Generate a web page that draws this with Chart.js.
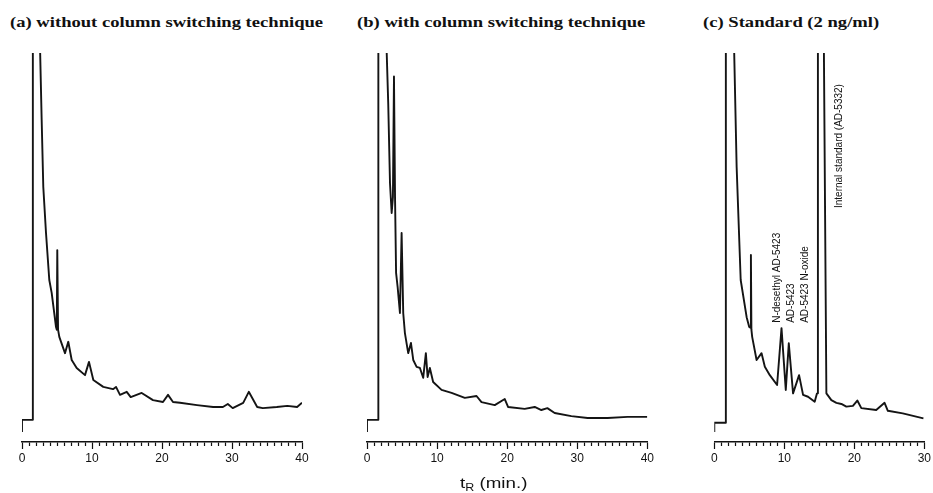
<!DOCTYPE html>
<html>
<head>
<meta charset="utf-8">
<script src="https://cdn.jsdelivr.net/npm/chart.js@4.4.1/dist/chart.umd.min.js"></script>
<style>
body{margin:0;background:#fff;}
#wrap{position:relative;width:933px;height:493px;overflow:hidden;background:#fff;}
canvas{position:absolute;top:0;}
.ttl{position:absolute;top:14px;font:bold 15px "Liberation Serif","Times New Roman",serif;line-height:16px;white-space:nowrap;transform:scaleX(1.24);transform-origin:0 0;color:#111;}
.xt{position:absolute;left:460px;top:475px;font:15px "Liberation Sans",Arial,sans-serif;line-height:16px;white-space:nowrap;transform:scaleX(1.25);transform-origin:0 0;color:#111;}
.xt sub{font-size:10px;vertical-align:-3px;}
</style>
</head>
<body>
<div id="wrap">
	<div class="ttl" id="title_a" style="left:10px;"></div>
	<div class="ttl" id="title_b" style="left:357px;"></div>
	<div class="ttl" id="title_c" style="left:703px;"></div>
	<canvas id="chrom_a" width="330" height="493" style="left:0px;"></canvas>
	<canvas id="chrom_b" width="330" height="493" style="left:345px;"></canvas>
	<canvas id="chrom_c" width="243" height="493" style="left:690px;"></canvas>
	<div class="xt">t<sub>R</sub> (min.)</div>
</div>
<script>
// retention time (min) and detector response (relative units, 100 = top of frame)
let titles = ['(a) without column switching technique', '(b) with column switching technique', '(c) Standard (2 ng/ml)'];

let timeA = [0, 0, 1.50, 1.55, 2.05, 2.57, 2.81, 3.04, 3.43, 3.9, 4.24, 4.86, 4.97, 5.04, 5.15, 5.33, 6.14, 6.61, 7.1, 7.81, 9.0, 9.57, 10.19, 11.61, 13.0, 13.43, 14.0, 14.96, 15.53, 17.1, 18.71, 20.14, 20.86, 21.57, 22.57, 25.0, 27.3, 28.7, 29.4, 30.1, 31.6, 32.4, 33.6, 34.4, 36.4, 37.9, 39.3, 40.0];
let signalA = [0, 3.2, 3.2, 102, 190, 102, 82.3, 64.7, 52.5, 40.1, 36.7, 27.7, 27, 48, 27, 25.1, 20.8, 23.8, 19.0, 16.9, 15.0, 18.5, 13.7, 11.9, 11.3, 11.9, 9.8, 10.6, 9.2, 10.3, 8.4, 7.9, 9.8, 7.9, 7.7, 7.1, 6.6, 6.6, 7.4, 6.3, 7.7, 10.6, 6.6, 6.3, 6.6, 6.9, 6.6, 7.7];

let timeB = [0, 0, 1.58, 1.62, 2.2, 2.78, 3.03, 3.28, 3.52, 3.7, 3.85, 4.0, 4.15, 4.37, 4.7, 4.94, 5.17, 5.41, 5.88, 6.27, 6.6, 7.08, 7.55, 8.02, 8.4, 8.65, 8.97, 9.44, 10.64, 12.07, 13.96, 15.63, 16.34, 18.23, 19.66, 20.13, 22.5, 23.93, 24.88, 25.74, 26.78, 29.16, 31.48, 34.33, 37.18, 40.0];
let signalB = [0, 3.2, 3.2, 102, 180, 102, 86.7, 65.7, 57.8, 62, 93.8, 62, 42, 38.3, 31.4, 52.5, 31.4, 26.1, 20.8, 23.5, 19.0, 17.2, 16.9, 14.3, 20.8, 14.5, 16.9, 13.2, 11.1, 10.3, 9.0, 9.5, 7.9, 7.1, 8.7, 6.6, 6.1, 6.6, 5.8, 6.3, 5.0, 4.2, 3.7, 3.7, 4.0, 4.0];

let timeC = [0, 0, 1.55, 1.65, 2.25, 2.82, 3.19, 3.77, 4.62, 4.99, 5.16, 5.23, 5.3, 5.41, 6.04, 6.75, 7.22, 7.93, 8.97, 9.6, 10.21, 10.64, 11.25, 12.11, 12.68, 13.39, 14.34, 14.67, 14.8, 15.25, 15.65, 16.01, 16.72, 17.44, 18.15, 18.86, 19.8, 20.43, 21.0, 23.13, 24.32, 24.79, 26.92, 29.87];
let signalC = [0, 2.45, 2.45, 102, 185, 102, 70.0, 40.1, 30.3, 27.7, 27.5, 46.7, 27, 25.1, 19.0, 20.8, 17.2, 15.0, 12.4, 27.4, 11.1, 23.4, 10.2, 15.0, 9.8, 9.3, 8.0, 10.2, 102, 170, 102, 10.2, 8.4, 7.7, 7.4, 6.7, 6.9, 8.3, 6.3, 5.8, 7.7, 5.6, 4.9, 3.6];

// peak labels in panel (c)
let peakNames = ['N-desethyl AD-5423', 'AD-5423', 'AD-5423 N-oxide', 'Internal standard (AD-5332)'];
let peakLabelTimes = [9.03, 11.03, 12.92, 17.8];
let peakLabelLevels = [28.8, 28.8, 28.8, 59.1];

let peakLabels = {
	id: 'peakLabels',
	afterDatasetsDraw: function(chart, args, opts){
		let notes = opts.notes || [];
		let c = chart.ctx;
		c.save();
		c.fillStyle = '#111';
		c.font = '10px "Liberation Sans", Arial, sans-serif';
		c.textAlign = 'left';
		c.textBaseline = 'middle';
		for(let i = 0; i < notes.length; i++){
			let px = chart.scales.x.getPixelForValue(notes[i].t);
			let py = chart.scales.y.getPixelForValue(notes[i].v);
			c.save();
			c.translate(px, py);
			c.rotate(-Math.PI / 2);
			c.fillText(notes[i].text, 0, 0);
			c.restore();
		}
		c.restore();
	}
};

window.onload = function(){
	document.getElementById('title_a').textContent = titles[0];
	document.getElementById('title_b').textContent = titles[1];
	document.getElementById('title_c').textContent = titles[2];

	let notesC = [];
	for(let i = 0; i < peakNames.length; i++){
		notesC.push({text: peakNames[i], t: peakLabelTimes[i], v: peakLabelLevels[i]});
	}

	makePanel('chrom_a', timeA, signalA, 40, [22, 28], []);
	makePanel('chrom_b', timeB, signalB, 40, [22, 27.7], []);
	makePanel('chrom_c', timeC, signalC, 30, [24.3, 8], notesC);
};

function makePanel(id, times, signal, tMax, pad, notes){
	let points = [];
	for(let i = 0; i < times.length; i++){
		points.push({x: times[i], y: signal[i]});
	}
	let ctx = document.getElementById(id).getContext('2d');
	return new Chart(ctx, {
		type: 'line',
		data: {
			datasets: [{
				data: points,
				borderColor: '#141414',
				borderWidth: 1.9,
				borderJoinStyle: 'round',
				pointRadius: 0,
				tension: 0,
				fill: false
			}]
		},
		options: {
			responsive: false,
			animation: false,
			layout: {padding: {left: pad[0], right: pad[1], top: 53, bottom: 21}},
			plugins: {
				legend: {display: false},
				tooltip: {enabled: false},
				peakLabels: {notes: notes}
			},
			scales: {
				x: {
					type: 'linear',
					min: 0,
					max: tMax,
					afterFit: function(s){ s.height = 30; },
					border: {display: true, color: '#111', width: 1.5},
					grid: {
						display: true,
						drawOnChartArea: false,
						drawTicks: true,
						tickLength: 7,
						tickColor: '#111',
						tickWidth: 1.2,
						tickBorderDash: function(c){
							return (c.tick && c.tick.value % 10 === 0) ? [] : [3.5, 20];
						}
					},
					ticks: {
						stepSize: 1,
						autoSkip: false,
						maxRotation: 0,
						padding: 2,
						color: '#111',
						font: {family: '"Liberation Sans", Arial, sans-serif', size: 12},
						callback: function(v){ return v % 10 === 0 ? String(v) : ''; }
					}
				},
				y: {display: false, min: -2.64, max: 100}
			}
		},
		plugins: [peakLabels]
	});
}
</script>
</body>
</html>
